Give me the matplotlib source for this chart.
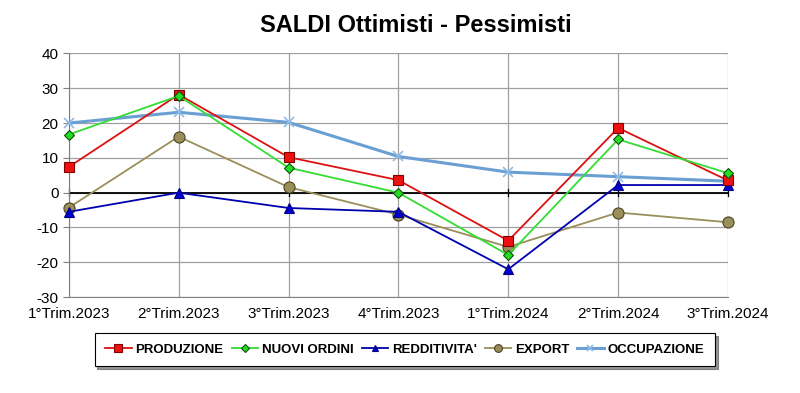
import matplotlib
matplotlib.use("Agg")
import matplotlib.pyplot as plt

plt.rcParams['font.family'] = ['Liberation Sans', 'DejaVu Sans']
plt.rcParams['axes.unicode_minus'] = False

# quarters on the x axis
quarters = ["1°Trim.2023", "2°Trim.2023", "3°Trim.2023", "4°Trim.2023",
            "1°Trim.2024", "2°Trim.2024", "3°Trim.2024"]

# balance optimists - pessimists
produzione = [7.4, 28.2, 10.2, 3.6, -13.8, 18.6, 3.5]
nuovi_ordini = [16.7, 27.8, 7.2, 0.0, -17.9, 15.3, 5.6]
redditivita = [-5.5, 0.0, -4.4, -5.5, -22.0, 2.2, 2.2]
export = [-4.3, 16.1, 1.6, -6.3, -15.6, -5.7, -8.5]
occupazione = [20.0, 23.1, 20.2, 10.4, 5.9, 4.6, 3.3]

fig = plt.figure(figsize=(8, 3.93), dpi=100)
ax = fig.add_axes([0.086, 0.244, 0.824, 0.62])

x = list(range(len(quarters)))

ax.plot(x, occupazione, color="#6A9FD4", lw=2.2, marker="x", ms=7,
        mew=1.2, mec="#8DBBE8", label="OCCUPAZIONE", zorder=3, clip_on=False)
ax.plot(x, export, color="#9A8F5A", lw=1.3, marker="o", ms=8,
        mfc="#9A8F5A", mec="#4A4420", mew=0.8, label="EXPORT", zorder=4,
        clip_on=False)
ax.plot(x, redditivita, color="#0000B0", lw=1.3, marker="^", ms=7,
        mfc="#0000D0", mec="#000080", mew=0.8, label="REDDITIVITA'", zorder=5,
        clip_on=False)
ax.plot(x, nuovi_ordini, color="#33DD33", lw=1.3, marker="D", ms=5.5,
        mfc="#22DD22", mec="#105010", mew=0.8, label="NUOVI ORDINI", zorder=6,
        clip_on=False)
ax.plot(x, produzione, color="#DD1111", lw=1.3, marker="s", ms=7.5,
        mfc="#EE1111", mec="#800000", mew=0.8, label="PRODUZIONE", zorder=5.5,
        clip_on=False)

ax.axhline(0, color="black", lw=1.3, zorder=2)
# small ticks crossing the zero line
for xi in x:
    ax.plot([xi, xi], [-1.0, 1.0], color="black", lw=0.9, zorder=2,
            clip_on=False)

ax.set_xlim(0, len(quarters) - 1)
ax.set_ylim(-30, 40)
ax.set_yticks(range(-30, 41, 10))
ax.set_xticks(x)
ax.set_xticklabels(quarters, fontsize=11)
ax.tick_params(axis="y", labelsize=11, length=4, color="#808080")
ax.tick_params(axis="x", length=0, pad=7)
ax.grid(True, color="#A0A0A0", lw=0.9, zorder=1)
for side in ["top", "right"]:
    ax.spines[side].set_visible(False)
for side in ["left", "bottom"]:
    ax.spines[side].set_color("#808080")

fig.text(0.52, 0.935, "SALDI Ottimisti - Pessimisti", ha="center", va="center",
         fontsize=17, fontweight="bold")

handles, labels = ax.get_legend_handles_labels()
order = [4, 3, 2, 1, 0]
leg = fig.legend([handles[i] for i in order], [labels[i] for i in order],
                 loc="center", bbox_to_anchor=(0.506, 0.11), ncol=5,
                 frameon=True, fancybox=False,
                 shadow={"ox": 2, "oy": -2, "color": "#303030"},
                 prop={"weight": "bold", "size": 9.5},
                 handlelength=2.0, handletextpad=0.3, columnspacing=0.6,
                 markerscale=0.7, borderpad=0.8)
leg.get_frame().set_edgecolor("black")
leg.get_frame().set_linewidth(0.8)

fig.savefig("out.png", dpi=100)
